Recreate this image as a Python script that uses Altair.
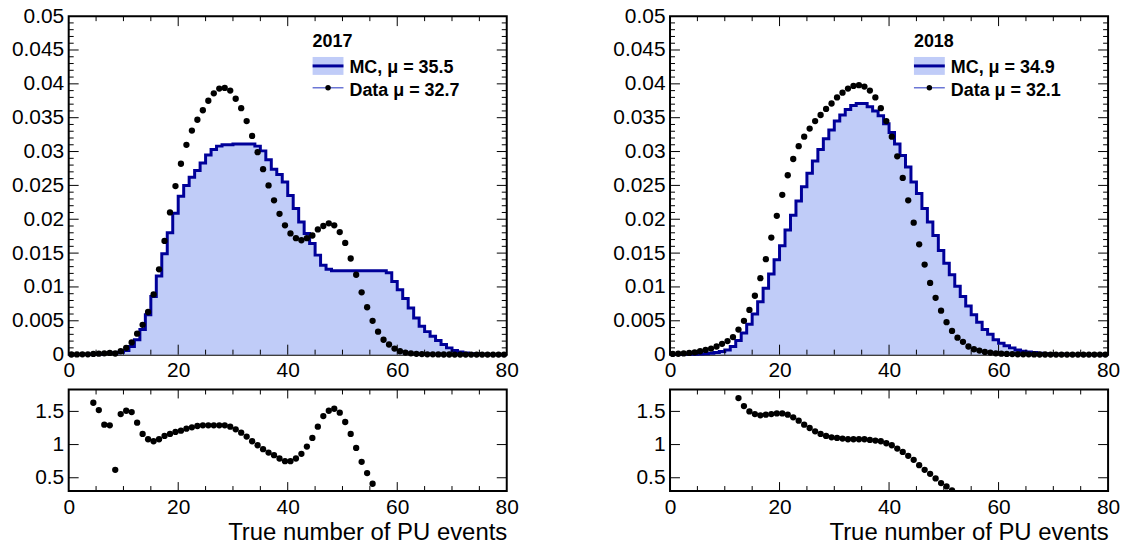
import altair as alt
import pandas as pd

# ---------------- data ----------------
mc_2017 = [0.0, 0.00001, 0.00002, 0.00003, 0.00006, 0.0001, 0.00015, 0.0002, 0.00028, 0.00035,
           0.0006, 0.0012, 0.0022, 0.0037, 0.0059, 0.0086, 0.0116, 0.0149, 0.0180, 0.0209,
           0.0234, 0.0250, 0.0262, 0.0272, 0.0283, 0.0295, 0.0303, 0.0308, 0.0310, 0.0310,
           0.0311, 0.0311, 0.0311, 0.0311, 0.0308, 0.0301, 0.0288, 0.0274, 0.0266, 0.0255,
           0.0235, 0.0216, 0.0196, 0.0179, 0.0164, 0.0147, 0.0132, 0.0126, 0.0124, 0.0124,
           0.0124, 0.0124, 0.0124, 0.0124, 0.0124, 0.0124, 0.0124, 0.0124, 0.0121, 0.0108,
           0.0096, 0.0083, 0.0069, 0.0054, 0.0042, 0.0034, 0.0027, 0.0021, 0.0015, 0.0010,
           0.0006, 0.0004, 0.00025, 0.00015, 0.0001, 0.00006, 0.00003, 0.00002, 0.00001, 0.0]
data_2017 = [0.00002, 0.00003, 0.00004, 0.00005, 0.0001, 0.00015, 0.0002, 0.00026, 0.00017, 0.0005,
             0.0010, 0.0018, 0.0031, 0.0044, 0.0063, 0.0089, 0.0126, 0.0168, 0.0210, 0.0249,
             0.0282, 0.0310, 0.0331, 0.0347, 0.0361, 0.0375, 0.0386, 0.0393, 0.0394, 0.0390,
             0.0378, 0.0364, 0.0345, 0.0323, 0.0299, 0.0274, 0.0250, 0.0228, 0.0208, 0.0191,
             0.0179, 0.0172, 0.0169, 0.0172, 0.0176, 0.0185, 0.0190, 0.0194, 0.0191, 0.0181,
             0.0165, 0.0142, 0.0118, 0.0092, 0.0070, 0.0050, 0.0034, 0.0022, 0.0015, 0.0009,
             0.0005, 0.0003, 0.0002, 0.00012, 0.00008, 0.00005, 0.00004, 0.00003, 0.00002, 0.00002,
             0.00001, 0.00001, 0.00001, 0.00001, 0.00001, 0.00001, 0.00001, 0.00001, 0.00001, 0.00001]
ratio_2017_first_bin = 4
ratio_2017 = [1.63, 1.52, 1.30, 1.29, 0.62, 1.46, 1.51, 1.49, 1.33, 1.16,
              1.08, 1.05, 1.08, 1.13, 1.16, 1.19, 1.21, 1.24, 1.26, 1.28,
              1.29, 1.29, 1.29, 1.29, 1.29, 1.27, 1.23, 1.18, 1.12, 1.05,
              0.99, 0.93, 0.88, 0.84, 0.79, 0.75, 0.75, 0.79, 0.86, 0.97,
              1.10, 1.27, 1.43, 1.51, 1.54, 1.48, 1.34, 1.16, 0.95, 0.74,
              0.57, 0.41]

mc_2018 = [0.00002, 0.00003, 0.00004, 0.00005, 0.00007, 0.0001, 0.00014, 0.0002, 0.0003, 0.00045,
           0.0007, 0.0012, 0.0021, 0.0032, 0.0045, 0.0060, 0.0078, 0.0098, 0.0119, 0.0140,
           0.0161, 0.0184, 0.0206, 0.0227, 0.0248, 0.0268, 0.0286, 0.0303, 0.0319, 0.0332,
           0.0345, 0.0354, 0.0362, 0.0368, 0.0371, 0.0371, 0.0366, 0.0360, 0.0353, 0.0341,
           0.0328, 0.0311, 0.0294, 0.0277, 0.0255, 0.0238, 0.0216, 0.0196, 0.0176, 0.0154,
           0.0135, 0.0118, 0.0101, 0.0086, 0.0072, 0.0059, 0.0048, 0.0037, 0.0030, 0.0022,
           0.0017, 0.0013, 0.0010, 0.0007, 0.0005, 0.0004, 0.0003, 0.0002, 0.00015, 0.0001,
           0.00007, 0.00005, 0.00004, 0.00003, 0.00002, 0.00002, 0.00001, 0.00001, 0.00001, 0.0]
data_2018 = [0.0001, 0.00013, 0.00018, 0.00025, 0.00035, 0.0005, 0.0007, 0.0009, 0.0012, 0.0016,
             0.0020, 0.0026, 0.0037, 0.0050, 0.0066, 0.0087, 0.0113, 0.0141, 0.0173, 0.0205,
             0.0236, 0.0265, 0.0289, 0.0308, 0.0322, 0.0334, 0.0345, 0.0354, 0.0363, 0.0371,
             0.0380, 0.0387, 0.0393, 0.0397, 0.0398, 0.0396, 0.0390, 0.0380, 0.0364, 0.0345,
             0.0322, 0.0293, 0.0261, 0.0228, 0.0195, 0.0163, 0.0133, 0.0106, 0.0084, 0.0065,
             0.0048, 0.0035, 0.0025, 0.0019, 0.0012, 0.0008, 0.0006, 0.0004, 0.0003, 0.0002,
             0.00015, 0.0001, 0.00008, 0.00006, 0.00005, 0.00004, 0.00003, 0.00002, 0.00002, 0.00001,
             0.00001, 0.00001, 0.00001, 0.00001, 0.00001, 0.00001, 0.00001, 0.00001, 0.00001, 0.00001]
ratio_2018_first_bin = 12
ratio_2018 = [1.70, 1.58, 1.50, 1.46, 1.44, 1.45, 1.46, 1.47, 1.47, 1.45,
              1.41, 1.36, 1.30, 1.25, 1.20, 1.16, 1.13, 1.11, 1.10, 1.09,
              1.08, 1.08, 1.08, 1.08, 1.07, 1.06, 1.05, 1.02, 0.99, 0.94,
              0.89, 0.83, 0.77, 0.69, 0.62, 0.56, 0.49, 0.42, 0.37, 0.31]

years = ["2017", "2018"]
mc_labels = ["MC, \u03bc = 35.5", "MC, \u03bc = 34.9"]
data_labels = ["Data  \u03bc = 32.7", "Data  \u03bc = 32.1"]
x_tick_labels = [0, 20, 40, 60, 80]
y_tick_labels = [0, 0.005, 0.01, 0.015, 0.02, 0.025, 0.03, 0.035, 0.04, 0.045, 0.05]
ratio_tick_labels = [0.5, 1, 1.5]
x_label = "True number of PU events"

# ---------------- style ----------------
W, H_MAIN, H_RATIO = 440, 340, 102
FONT = "Liberation Sans"
FILL = "#c0ccf8"
LINE = "#000099"
LABEL_SIZE = 21

xscale = alt.Scale(domain=[0, 80], nice=False, zero=False)
yscale = alt.Scale(domain=[0, 0.05], nice=False, zero=False)
rscale = alt.Scale(domain=[0.3, 1.83], nice=False, zero=False)

one_row = pd.DataFrame({"a": [0]})


def label_axis(values, padding, fmt=None, title=None):
    kw = dict(values=values, labelFontSize=LABEL_SIZE, labelFont=FONT, labelColor="black",
              ticks=False, tickSize=0, domain=False, grid=False, labelPadding=padding,
              labelFlush=False, labelOverlap=False)
    if fmt:
        kw["format"] = fmt
    if title:
        kw.update(title=title, titleFont=FONT, titleFontSize=24, titleFontWeight="normal",
                  titleColor="black", titleAnchor="end", titlePadding=3)
    else:
        kw["title"] = None
    return alt.Axis(**kw)


def tick_layer(values, side, length, xs, ys, xaxis, yaxis, height):
    df = pd.DataFrame({"v": values})
    base = alt.Chart(df).mark_rule(color="black", strokeWidth=1)
    if side == "left":
        return base.encode(y=alt.Y("v:Q", scale=ys, axis=yaxis), x=alt.value(0), x2=alt.value(length))
    if side == "right":
        return base.encode(y=alt.Y("v:Q", scale=ys, axis=yaxis), x=alt.value(W - length), x2=alt.value(W))
    if side == "bottom":
        return base.encode(x=alt.X("v:Q", scale=xs, axis=xaxis), y=alt.value(height), y2=alt.value(height - length))
    return base.encode(x=alt.X("v:Q", scale=xs, axis=xaxis), y=alt.value(0), y2=alt.value(length))


x_minor = [v for v in range(5, 80, 5) if v % 20 != 0]
x_major = [20, 40, 60]
y_minor = [round(i * 0.001, 3) for i in range(1, 50) if i % 5 != 0]
y_major = [round(i * 0.005, 3) for i in range(1, 10)]


def main_panel(mc, data, year, mc_label, data_label):
    hist = pd.DataFrame({"x": list(range(len(mc) + 1)), "y": list(mc) + [mc[-1]]})
    pts = pd.DataFrame({"x": [i + 0.5 for i in range(len(data))], "y": data})
    xaxis = label_axis(x_tick_labels, 5)
    yaxis = label_axis(y_tick_labels, 5, fmt="~g")
    area = alt.Chart(hist).mark_area(interpolate="step-after", color=FILL, opacity=1).encode(
        x=alt.X("x:Q", scale=xscale, axis=xaxis), y=alt.Y("y:Q", scale=yscale, axis=yaxis))
    line = alt.Chart(hist).mark_line(interpolate="step-after", color=LINE, strokeWidth=3).encode(
        x=alt.X("x:Q", scale=xscale, axis=xaxis), y=alt.Y("y:Q", scale=yscale, axis=yaxis))
    dots = alt.Chart(pts).mark_circle(size=40, color="black", opacity=1).encode(
        x=alt.X("x:Q", scale=xscale, axis=xaxis), y=alt.Y("y:Q", scale=yscale, axis=yaxis))
    args = (xscale, yscale, xaxis, yaxis, H_MAIN)
    ticks = [
        tick_layer(y_minor, "left", 5, *args),
        tick_layer(y_major, "left", 10, *args),
        tick_layer(y_minor, "right", 5, *args),
        tick_layer(y_major, "right", 10, *args),
        tick_layer(x_minor, "top", 5, *args),
        tick_layer(x_major, "top", 10, *args),
        tick_layer(x_minor, "bottom", 5, *args),
        tick_layer(x_major, "bottom", 10, *args),
    ]
    lx = 245
    legend = [
        alt.Chart(one_row).mark_text(text=year, align="left", baseline="alphabetic", font=FONT,
                                     fontSize=18, fontWeight="bold", color="black").encode(
            x=alt.value(lx), y=alt.value(31)),
        alt.Chart(one_row).mark_rect(color=FILL).encode(
            x=alt.value(lx), x2=alt.value(lx + 31), y=alt.value(41), y2=alt.value(59)),
        alt.Chart(one_row).mark_rule(color=LINE, strokeWidth=3).encode(
            x=alt.value(lx), x2=alt.value(lx + 31), y=alt.value(50)),
        alt.Chart(one_row).mark_text(text=mc_label, align="left", baseline="alphabetic", font=FONT,
                                     fontSize=18, fontWeight="bold", color="black").encode(
            x=alt.value(lx + 37), y=alt.value(57)),
        alt.Chart(one_row).mark_rule(color="#2030c0", strokeWidth=1).encode(
            x=alt.value(lx), x2=alt.value(lx + 31), y=alt.value(72)),
        alt.Chart(one_row).mark_circle(size=30, color="black", opacity=1).encode(
            x=alt.value(lx + 15.5), y=alt.value(72)),
        alt.Chart(one_row).mark_text(text=data_label, align="left", baseline="alphabetic", font=FONT,
                                     fontSize=18, fontWeight="bold", color="black").encode(
            x=alt.value(lx + 37), y=alt.value(80)),
    ]
    return alt.layer(area, line, dots, *ticks, *legend).properties(width=W, height=H_MAIN)


def ratio_panel(ratio, first_bin):
    pts = pd.DataFrame({"x": [first_bin + i + 0.5 for i in range(len(ratio))], "y": ratio})
    xaxis = label_axis(x_tick_labels, 6, title=x_label)
    yaxis = label_axis(ratio_tick_labels, 5, fmt="~g")
    dots = alt.Chart(pts).mark_circle(size=40, color="black", opacity=1, clip=True).encode(
        x=alt.X("x:Q", scale=xscale, axis=xaxis), y=alt.Y("y:Q", scale=rscale, axis=yaxis))
    args = (xscale, rscale, xaxis, yaxis, H_RATIO)
    ticks = [
        tick_layer(ratio_tick_labels, "left", 10, *args),
        tick_layer(ratio_tick_labels, "right", 10, *args),
        tick_layer(x_minor, "top", 5, *args),
        tick_layer(x_major, "top", 9, *args),
        tick_layer(x_minor, "bottom", 5, *args),
        tick_layer(x_major, "bottom", 9, *args),
    ]
    return alt.layer(dots, *ticks).properties(width=W, height=H_RATIO)


col17 = alt.vconcat(main_panel(mc_2017, data_2017, years[0], mc_labels[0], data_labels[0]),
                    ratio_panel(ratio_2017, ratio_2017_first_bin), spacing=6)
col18 = alt.vconcat(main_panel(mc_2018, data_2018, years[1], mc_labels[1], data_labels[1]),
                    ratio_panel(ratio_2018, ratio_2018_first_bin), spacing=6)

chart = alt.hconcat(col17, col18, spacing=92).properties(
    padding={"left": 10, "top": 3, "right": 5, "bottom": 2},
    background="white",
).configure_view(stroke="black", strokeWidth=2)

chart.save("out.html", embed_options={"renderer": "svg", "actions": False})
